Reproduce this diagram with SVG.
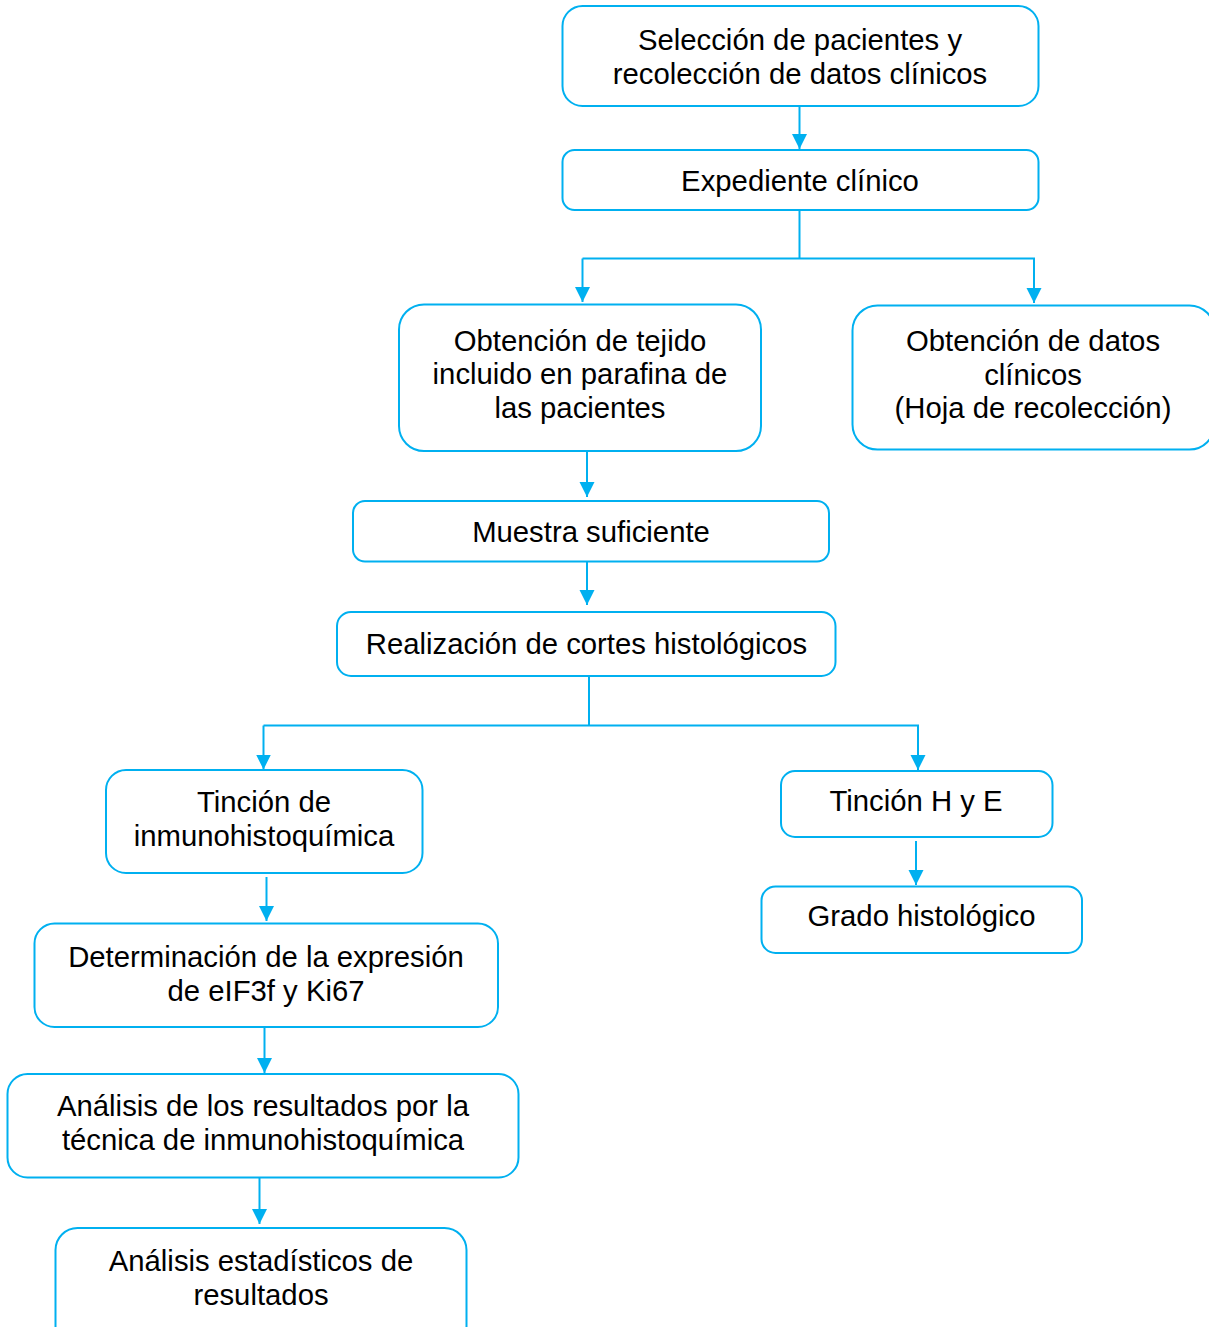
<svg xmlns="http://www.w3.org/2000/svg" width="1209" height="1327" viewBox="0 0 1209 1327">
<defs>
<style>
.box{fill:#FFFFFF;stroke:#00B0F0;stroke-width:2}
.ln{fill:none;stroke:#00B0F0;stroke-width:2}
.t{font-family:"Liberation Sans",Arial,sans-serif;font-size:29.3px;fill:#000000;text-anchor:middle}
</style>
<marker id="ah" markerUnits="userSpaceOnUse" markerWidth="16" markerHeight="16" viewBox="0 0 16 16" refX="15" refY="8" orient="auto">
<path d="M0,0.5 L15,8 L0,15.5 Z" fill="#00B0F0"/>
</marker>
</defs>
<rect width="1209" height="1327" fill="#FFFFFF"/>
<g id="connectors">
<line class="ln" x1="799.5" y1="106" x2="799.5" y2="149" marker-end="url(#ah)"/>
<polyline class="ln" points="799.5,210 799.5,258.5"/>
<polyline class="ln" points="582.5,258.5 1034,258.5 1034,303" marker-end="url(#ah)"/>
<line class="ln" x1="582.5" y1="258.5" x2="582.5" y2="302" marker-end="url(#ah)"/>
<line class="ln" x1="587" y1="451" x2="587" y2="497" marker-end="url(#ah)"/>
<line class="ln" x1="587" y1="562" x2="587" y2="605" marker-end="url(#ah)"/>
<polyline class="ln" points="589,676 589,725.5"/>
<polyline class="ln" points="263.5,725.5 918,725.5 918,770" marker-end="url(#ah)"/>
<line class="ln" x1="263.5" y1="725.5" x2="263.5" y2="769.5" marker-end="url(#ah)"/>
<line class="ln" x1="916" y1="841" x2="916" y2="885" marker-end="url(#ah)"/>
<line class="ln" x1="266.5" y1="877" x2="266.5" y2="921" marker-end="url(#ah)"/>
<line class="ln" x1="264.5" y1="1028" x2="264.5" y2="1073" marker-end="url(#ah)"/>
<line class="ln" x1="259.5" y1="1178" x2="259.5" y2="1224" marker-end="url(#ah)"/>
</g>
<g id="n1">
<rect class="box" x="562.5" y="6" width="476" height="100" rx="20"/>
<text class="t" x="800" y="50">Selección de pacientes y</text>
<text class="t" x="800" y="83.5">recolección de datos clínicos</text>
</g>
<g id="n2">
<rect class="box" x="562.5" y="150" width="476" height="60" rx="12"/>
<text class="t" x="800" y="191">Expediente clínico</text>
</g>
<g id="n3">
<rect class="box" x="399" y="304.5" width="362" height="146.5" rx="25"/>
<text class="t" x="580" y="350.5">Obtención de tejido</text>
<text class="t" x="580" y="384">incluido en parafina de</text>
<text class="t" x="580" y="417.5">las pacientes</text>
</g>
<g id="n4">
<rect class="box" x="852.5" y="305.5" width="362" height="144" rx="25"/>
<text class="t" x="1033" y="351">Obtención de datos</text>
<text class="t" x="1033" y="384.5">clínicos</text>
<text class="t" x="1033" y="418">(Hoja de recolección)</text>
</g>
<g id="n5">
<rect class="box" x="353" y="501" width="476" height="60.5" rx="12"/>
<text class="t" x="591" y="542">Muestra suficiente</text>
</g>
<g id="n6">
<rect class="box" x="337" y="612" width="498.5" height="64" rx="14"/>
<text class="t" x="586.5" y="653.5">Realización de cortes histológicos</text>
</g>
<g id="n7">
<rect class="box" x="106" y="770" width="316.5" height="103" rx="20"/>
<text class="t" x="264" y="812">Tinción de</text>
<text class="t" x="264" y="846">inmunohistoquímica</text>
</g>
<g id="n8">
<rect class="box" x="781" y="771" width="271.5" height="66" rx="14"/>
<text class="t" x="916" y="811">Tinción H y E</text>
</g>
<g id="n9">
<rect class="box" x="761.5" y="886.5" width="320.5" height="66.5" rx="14"/>
<text class="t" x="921.5" y="926">Grado histológico</text>
</g>
<g id="n10">
<rect class="box" x="34.5" y="923.5" width="463.5" height="103.5" rx="20"/>
<text class="t" x="266" y="967">Determinación de la expresión</text>
<text class="t" x="266" y="1000.5">de eIF3f y Ki67</text>
</g>
<g id="n11">
<rect class="box" x="7.5" y="1074" width="511" height="103.5" rx="20"/>
<text class="t" x="263" y="1116">Análisis de los resultados por la</text>
<text class="t" x="263" y="1150">técnica de inmunohistoquímica</text>
</g>
<g id="n12">
<rect class="box" x="55.5" y="1228" width="411" height="120" rx="22"/>
<text class="t" x="261" y="1270.5">Análisis estadísticos de</text>
<text class="t" x="261" y="1304.5">resultados</text>
</g>
</svg>
